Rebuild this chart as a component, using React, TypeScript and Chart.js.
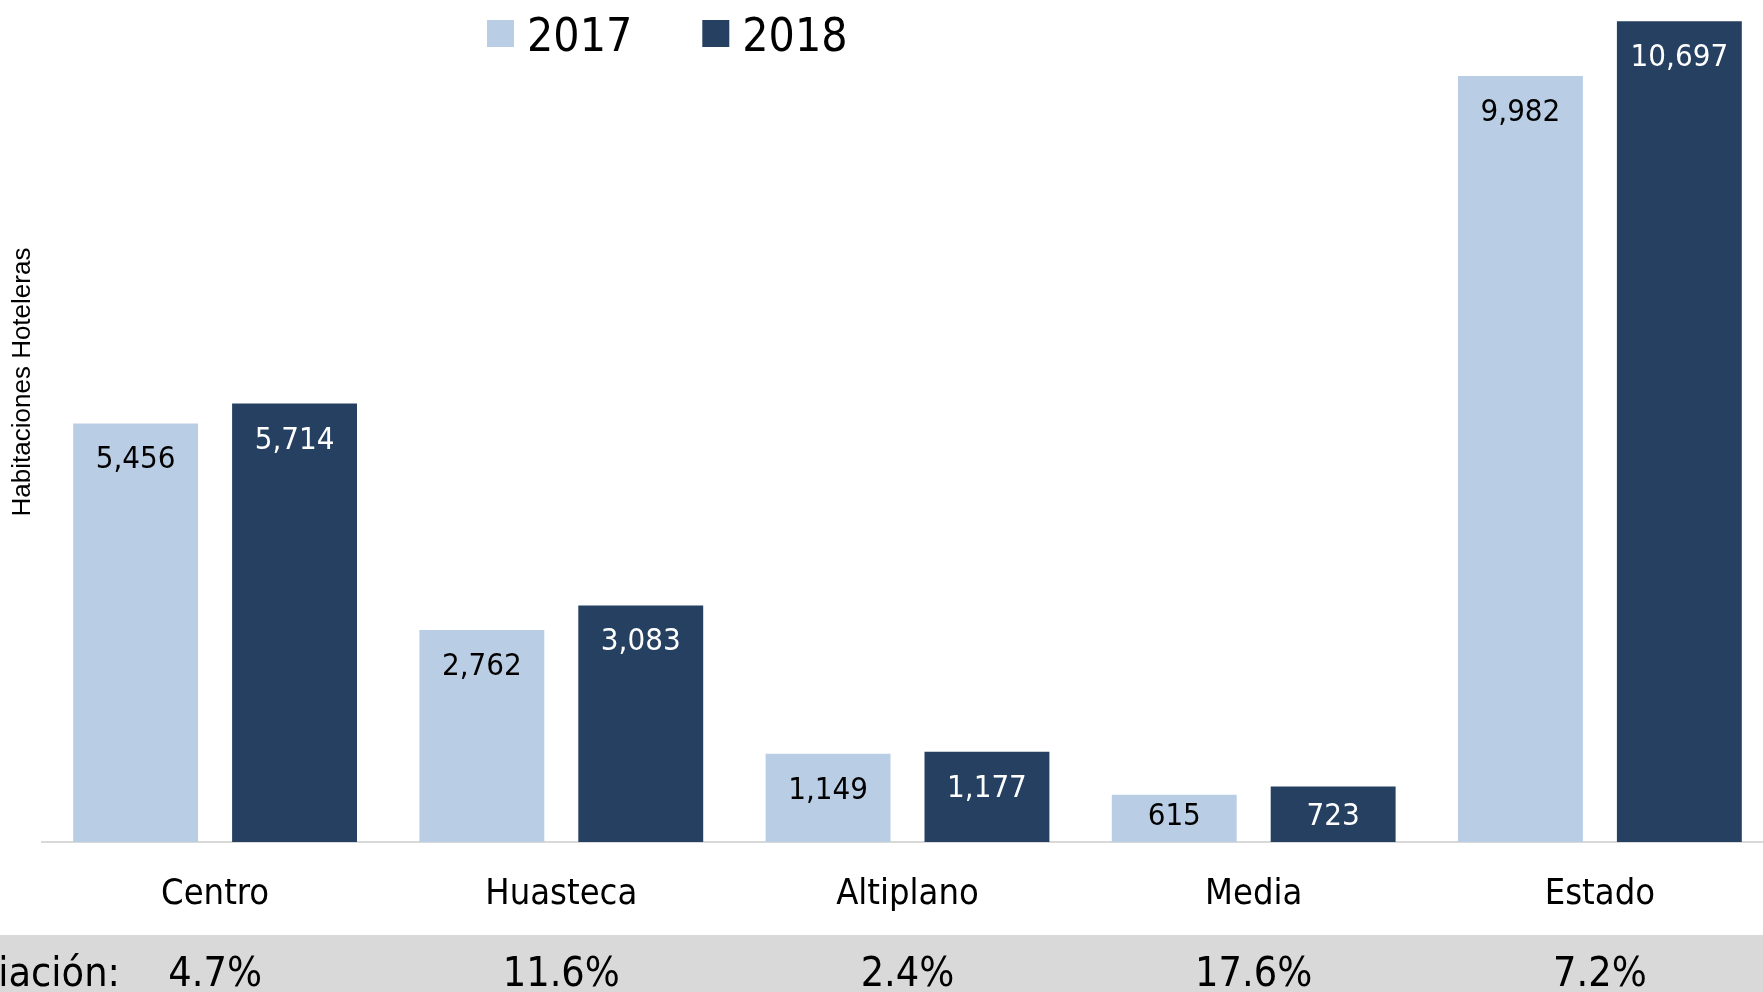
import React, { useEffect, useRef } from "react";
import { Chart, registerables } from "chart.js";

Chart.register(...registerables);

// ---- data ----
const categories = ["Centro", "Huasteca", "Altiplano", "Media", "Estado"];
const seriesLabels = ["2017", "2018"];
const values2017 = [5456, 2762, 1149, 615, 9982];
const values2018 = [5714, 3083, 1177, 723, 10697];
const variationLabel = "Variación:";
const variations = ["4.7%", "11.6%", "2.4%", "17.6%", "7.2%"];
const yTitle = "Habitaciones Hoteleras";
const yMax = 11000;

// ---- styles ----
const colors = ["#B9CDE5", "#254061"];
const labelColors = ["#000000", "#FFFFFF"];
const FONT = "'DejaVu Sans Condensed', 'DejaVu Sans', Verdana, sans-serif";
const TOP_SHIFT = 10; // canvas sits 10px above the page top
const CANVAS_W = 1800;
const CANVAS_H = 1002;

const decorPlugin = {
  id: "decor",
  beforeDraw(chart: any) {
    const ctx = chart.ctx;
    ctx.save();
    ctx.fillStyle = "#FFFFFF";
    ctx.fillRect(0, 0, chart.width, chart.height);
    ctx.fillStyle = "#D9D9D9";
    const bandTop = 935 + TOP_SHIFT;
    ctx.fillRect(0, bandTop, chart.width, chart.height - bandTop);
    ctx.restore();
  },
  afterDraw(chart: any) {
    const ctx = chart.ctx;
    ctx.save();

    // value labels inside bars (clamped so they stay inside short bars)
    ctx.textAlign = "center";
    ctx.textBaseline = "alphabetic";
    ctx.font = `31px ${FONT}`;
    chart.data.datasets.forEach((ds: any, i: number) => {
      const meta = chart.getDatasetMeta(i);
      ctx.fillStyle = labelColors[i];
      meta.data.forEach((el: any, j: number) => {
        const v = ds.data[j] as number;
        const y = Math.min(el.y + 45, el.base - 17);
        ctx.fillText(v.toLocaleString("en-US"), el.x, y);
      });
    });

    // legend
    ctx.font = `46px ${FONT}`;
    ctx.textAlign = "left";
    ctx.textBaseline = "alphabetic";
    let x = 487;
    chart.data.datasets.forEach((ds: any) => {
      ctx.fillStyle = ds.backgroundColor;
      ctx.fillRect(x, 20 + TOP_SHIFT, 27, 27);
      x += 27 + 13;
      ctx.fillStyle = "#000000";
      ctx.fillText(ds.label, x, 51 + TOP_SHIFT);
      x += ctx.measureText(ds.label).width + 70;
    });

    // y-axis title
    ctx.save();
    ctx.translate(23, 382 + TOP_SHIFT);
    ctx.rotate(-Math.PI / 2);
    ctx.textAlign = "center";
    ctx.textBaseline = "middle";
    ctx.font = `26px 'Liberation Sans', Arial, sans-serif`;
    ctx.fillStyle = "#000000";
    ctx.fillText(yTitle, 0, 0);
    ctx.restore();

    // variation row
    ctx.font = `41px ${FONT}`;
    ctx.fillStyle = "#000000";
    ctx.textBaseline = "alphabetic";
    ctx.textAlign = "right";
    ctx.fillText(variationLabel, 120, 986 + TOP_SHIFT);
    ctx.textAlign = "center";
    const xs = chart.scales.x;
    variations.forEach((t, j) => {
      ctx.fillText(t, xs.getPixelForValue(j), 986 + TOP_SHIFT);
    });

    ctx.restore();
  },
};

export default function App() {
  const ref = useRef<HTMLCanvasElement | null>(null);

  useEffect(() => {
    if (!ref.current) return;
    const chart = new Chart(ref.current, {
      type: "bar",
      data: {
        labels: categories,
        datasets: [
          {
            label: seriesLabels[0],
            data: values2017,
            backgroundColor: colors[0],
            categoryPercentage: 0.918,
            barPercentage: 0.786,
          },
          {
            label: seriesLabels[1],
            data: values2018,
            backgroundColor: colors[1],
            categoryPercentage: 0.918,
            barPercentage: 0.786,
          },
        ],
      },
      options: {
        responsive: false,
        animation: false,
        devicePixelRatio: 1,
        layout: { padding: { top: 8, right: 27, left: 0, bottom: 0 } },
        plugins: {
          legend: { display: false },
          tooltip: { enabled: false },
          title: { display: false },
        },
        scales: {
          x: {
            grid: { display: false, drawTicks: false },
            border: { display: true, color: "#D9D9D9", width: 2 },
            ticks: {
              color: "#000000",
              padding: 31,
              font: { family: FONT, size: 36 },
              maxRotation: 0,
              autoSkip: false,
            },
            afterFit: (scale: any) => {
              scale.height = 150;
            },
          },
          y: {
            min: 0,
            max: yMax,
            display: true,
            grid: { display: false },
            border: { display: false },
            ticks: { display: false },
            afterFit: (scale: any) => {
              scale.width = 42;
            },
          },
        },
      },
      plugins: [decorPlugin],
    });
    return () => chart.destroy();
  }, []);

  return (
    <div
      style={{
        position: "fixed",
        left: 0,
        top: 0,
        width: 1763,
        height: 992,
        overflow: "hidden",
        background: "#FFFFFF",
      }}
    >
      <canvas
        ref={ref}
        width={CANVAS_W}
        height={CANVAS_H}
        style={{
          position: "absolute",
          left: 0,
          top: -TOP_SHIFT,
          width: CANVAS_W,
          height: CANVAS_H,
        }}
      />
    </div>
  );
}
